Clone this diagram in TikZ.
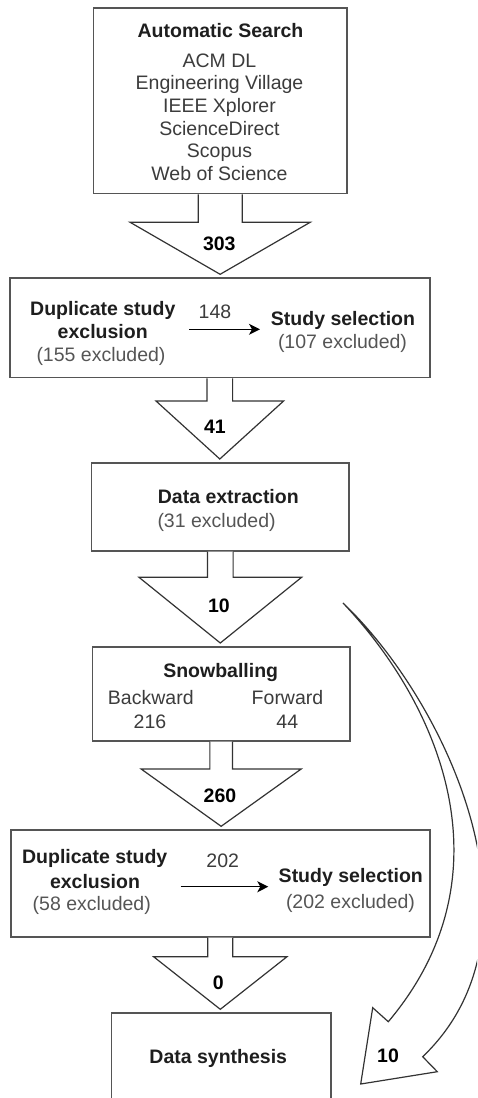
\documentclass[tikz,border=0pt]{standalone}
\usepackage{fontspec}
\setmainfont{Liberation Sans}
\usetikzlibrary{arrows.meta,calc}

\definecolor{boxgray}{HTML}{555555}
\definecolor{arrowgray}{HTML}{333333}
\definecolor{titlecol}{HTML}{1E1E1E}
\definecolor{textcol}{HTML}{3C3C3C}
\definecolor{notecol}{HTML}{555555}

% block arrow from the bottom of one box to the top of the next
% #1 source box, #2 target box, #3 shaft half width, #4 head half width, #5 head length
\newcommand\fatarrow[5]{%
  \draw[blockarrow] let \p1=(#1.south), \p2=(#2.north) in
    (\x1-#3pt,\y1) -- (\x1-#3pt,\y2+3pt+#5pt) -- (\x1-#4pt,\y2+3pt+#5pt)
    -- (\x1,\y2+3pt) -- (\x1+#4pt,\y2+3pt+#5pt) -- (\x1+#3pt,\y2+3pt+#5pt)
    -- (\x1+#3pt,\y1);}

\begin{document}
\begin{tikzpicture}[x=1pt,y=-1pt,
  box/.style={draw=boxgray, line width=1.6pt, fill=white, rectangle,
    inner sep=0pt, anchor=north west},
  blockarrow/.style={draw=arrowgray, line width=1.2pt, fill=white, line join=miter},
  title/.style={font=\fontsize{19.5}{22.7}\selectfont\bfseries, text=titlecol,
    inner sep=0pt, anchor=base},
  plain/.style={font=\fontsize{19.5}{22.7}\selectfont, text=textcol,
    inner sep=0pt, anchor=base},
  note/.style={plain, text=notecol},
  count/.style={font=\fontsize{19.5}{22.7}\selectfont\bfseries, text=black,
    inner sep=0pt, anchor=base},
  flow/.style={draw=black, line width=1.3pt,
    -{Stealth[length=11pt,width=11pt,inset=3pt]}}
]
\useasboundingbox (0,0) rectangle (477,1098);
\fill[white] (0,0) rectangle (477,1098);
\clip (0,0) rectangle (477,1098);

% ---- boxes ----
\node[box, minimum width=253.3pt, minimum height=185.4pt] (search)  at (92.7,7.3) {};
\node[box, minimum width=420pt,   minimum height=99.4pt]  (screenA) at (9,277.3) {};
\node[box, minimum width=257.6pt, minimum height=88pt]    (extract) at (90.7,462) {};
\node[box, minimum width=257.3pt, minimum height=94pt]    (snow)    at (91.7,646) {};
\node[box, minimum width=419pt,   minimum height=106.7pt] (screenB) at (10,829.3) {};
\node[box, minimum width=219.3pt, minimum height=110pt]   (synth)   at (110.7,1012.3) {};

% ---- block arrows between stages ----
\fatarrow{search}{screenA}{22}{90}{52}
\fatarrow{screenA}{extract}{12.8}{63.8}{58}
\fatarrow{extract}{snow}{12.8}{81.3}{65.7}
\fatarrow{snow}{screenB}{11.3}{80}{57.3}
\fatarrow{screenB}{synth}{12.5}{66.7}{52.6}

% ---- curved block arrow bypassing snowballing ----
\coordinate (cs) at (343,603);
\coordinate (on) at (422.7,1056.7);
\coordinate (ob) at (437.3,1071.7);
\coordinate (ct) at (360.7,1084);
\coordinate (ib) at (372.7,1007.7);
\coordinate (in) at (388.3,1021.7);
\draw[blockarrow] (cs) .. controls (445,700) and (555,930) .. (on) -- (ob) -- (ct)
  -- (ib) -- (in) .. controls (512,875) and (440,705) .. (cs) -- cycle;

% ---- automatic search ----
\node[title] (searchT) at (220.5,37) {Automatic Search};
\node[plain] (db1) at (219.5,67)    {ACM DL};
\node[plain] (db2) at (219.5,89.7)  {Engineering Village};
\node[plain] (db3) at (219.5,112.4) {IEEE Xplorer};
\node[plain] (db4) at (219.5,135.1) {ScienceDirect};
\node[plain] (db5) at (219.5,157.8) {Scopus};
\node[plain] (db6) at (219.5,180.5) {Web of Science};
\node[count] (n303) at (219.3,250.3) {303};

% ---- first screening ----
\node[title] (dupA1) at (102.8,315.3) {Duplicate study};
\node[title] (dupA2) at (102.7,338.7) {exclusion};
\node[note]  (dupA3) at (101,361)     {(155 excluded)};
\node[plain] (n148)  at (215,318.7)   {148};
\coordinate (flowAs) at (189,329.3);
\coordinate (flowAe) at (260,329.3);
\draw[flow] (flowAs) -- (flowAe);
\node[title] (selA1) at (343,325.3)   {Study selection};
\node[note]  (selA2) at (342.5,348)   {(107 excluded)};
\node[count] (n41)   at (215,433.7)   {41};

% ---- data extraction ----
\node[title, anchor=base west] (ext1) at (157.7,503.7) {Data extraction};
\node[note,  anchor=base west] (ext2) at (157.3,527)   {(31 excluded)};
\node[count] (n10a) at (219,612) {10};

% ---- snowballing ----
\node[title] (snowT) at (220.7,677)   {Snowballing};
\node[plain] (bw1)   at (150.8,704.3) {Backward};
\node[plain] (bw2)   at (150,728.7)   {216};
\node[plain] (fw1)   at (287.5,704.3) {Forward};
\node[plain] (fw2)   at (287.3,728.7) {44};
\node[count] (n260)  at (220,802)     {260};

% ---- second screening ----
\node[title] (dupB1) at (94.7,863.7) {Duplicate study};
\node[title] (dupB2) at (95,888.7)   {exclusion};
\node[note]  (dupB3) at (91.8,910.3) {(58 excluded)};
\node[plain] (n202)  at (222.7,867.7) {202};
\coordinate (flowBs) at (180.7,886.7);
\coordinate (flowBe) at (268.3,886.7);
\draw[flow] (flowBs) -- (flowBe);
\node[title] (selB1) at (350.8,882)   {Study selection};
\node[note]  (selB2) at (350.5,908.7) {(202 excluded)};
\node[count] (n0)    at (218.3,989.7) {0};

% ---- synthesis ----
\node[title] (synthT) at (218.3,1063.7) {Data synthesis};
\node[count] (n10b)   at (388,1062)     {10};
\end{tikzpicture}
\end{document}
